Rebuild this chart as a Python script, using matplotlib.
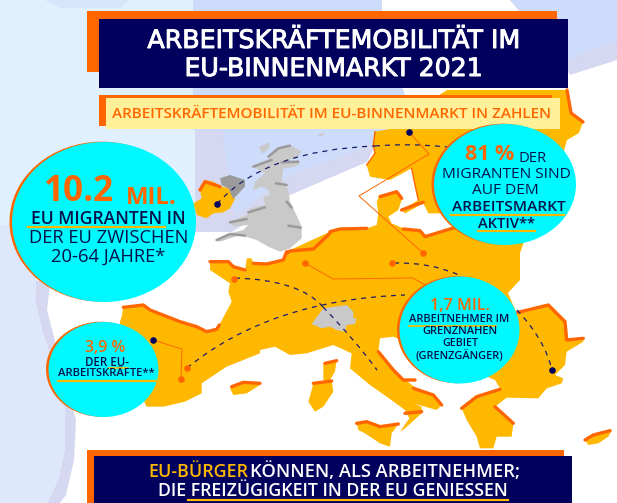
import matplotlib
matplotlib.use("Agg")
import matplotlib.pyplot as plt
import matplotlib.patheffects as pe
from matplotlib.patches import Polygon, Ellipse, Rectangle, PathPatch
from matplotlib.path import Path

ORANGE = "#ff6600"
AMBER = "#ffb800"
CYAN = "#00f8ff"
NAVY = "#01005c"
INK = "#04124a"
GREY = "#c9c9c9"
DARKGREY = "#9a9a9a"
FONT = "Open Sans"

def crop(x0, y0, pts):
    return [(x0 + x / 3, y0 + y / 3) for x, y in pts]

C1 = (190, 125)
C2 = (330, 85)
C3 = (100, 250)
C4 = (290, 300)

mainland = (
    crop(*C3, [(330,35),(385,35),(400,50),(435,65),(440,25),(455,25),(460,40),(500,45),(550,30),(560,5)])
    + crop(*C2, [(0,440),(30,430),(110,430),(140,420),(145,385),(140,350),(150,330),(200,320),(215,345),(205,375),
                 (175,395),(185,415),(220,430),(270,435),(285,455),(350,435),(400,420)])
    + [(530,225),(520,253),(520,280),(508,293),(516,312)]
    + crop(*C4, [(680,38),(775,12),(825,65),(830,120),(880,112),(880,125),(830,155),(825,195),(795,225),(820,235),
                 (815,250),(770,265),(745,295),(650,293),(615,320),(640,345),(670,370),(665,410),(620,410),(610,445),
                 (570,445),(560,410),(530,360),(515,325),(560,290),(630,265),(615,240),(310,110),(270,115),(265,155),
                 (310,210),(340,235),(375,262),(430,285),(455,315),(440,330),(370,310),(395,320),(395,340),(345,385),
                 (330,395),(358,355),(345,330),(290,290),(240,255),(180,205),(185,160),(130,135),(50,160),(0,165)])
    + crop(*C3, [(570,315),(525,290),(480,300),(480,310),(380,350),(305,400),(305,430),(255,455),(190,470),(140,470),
                 (60,300),(60,215),(65,200),(70,170),(130,165),(150,180),(240,215),(290,230),(320,245),(350,240),
                 (395,155),(385,125),(390,100),(330,60)])
)
north = (
    [(447,90),(567,90),(571,113),(583,122),(579,133),(567,140),(550,200),(530,235)]
    + crop(*C2, [(350,385),(295,385),(280,355),(225,385),(215,375),(265,345),(255,300),(245,250),(180,285),(120,275),
                 (110,240),(135,205),(130,180),(135,140),(190,130),(220,100)])
)
ireland = crop(*C1, [(30,195),(45,165),(70,170),(95,185),(115,190),(135,222),(120,250),(100,262),(70,265),(50,280),(20,270),(10,235),(35,220)])
corsica = crop(*C4, [(100,190),(140,180),(135,215),(120,240),(100,240)])
sardinia = crop(*C4, [(70,250),(125,240),(130,275),(100,320),(75,335),(55,305),(65,270)])
sicily = crop(*C4, [(200,370),(230,362),(270,378),(325,372),(305,400),(300,440),(270,430),(225,400),(205,390)])
balearic = crop(*C3, [(390,415),(430,395),(480,400),(480,405),(440,430),(400,435)])
cyprus = crop(*C4, [(885,420),(900,408),(945,400),(965,392),(955,410),(925,430),(895,435)])
uk = crop(*C1, [(235,95),(265,70),(300,60),(335,80),(320,100),(290,105),(330,115),(315,125),(280,130),(275,165),(295,195),
                (300,230),(310,250),(335,305),(335,340),(300,370),(270,380),(235,365),(200,345),(150,330),(90,350),(75,345),
                (120,325),(160,315),(175,300),(130,305),(120,290),(170,270),(180,250),(225,240),(220,215),(240,210),(235,195),
                (215,185),(190,195),(195,170),(225,145),(190,125),(235,110)])
nireland = crop(*C1, [(90,160),(120,150),(165,165),(165,185),(130,222),(115,190),(95,180)])
hebrides = crop(*C1, [(208,65),(240,52),(235,75),(215,85)])
orkney = crop(*C1, [(385,30),(400,22),(400,30),(390,35)])
switzerland = crop(*C4, [(65,72),(100,25),(170,15),(190,35),(190,55),(200,55),(195,72),(170,75),(165,95),(140,90),(120,80),(95,85)])

orange_edges = [
    crop(*C3, [(330,35),(385,35),(400,50),(435,60)]), crop(*C3, [(460,40),(500,42),(550,30),(560,5)]),
    crop(*C3, [(70,172),(130,165),(150,180),(240,215),(290,230),(320,245),(350,238),(358,225)]),
    crop(*C1, [(290,385),(300,378),(370,372),(420,325)]),
    crop(*C2, [(215,375),(260,358),(280,352)]), crop(*C2, [(150,335),(200,320),(215,340)]),
    crop(*C2, [(0,440),(30,432),(110,430)]), crop(*C2, [(220,432),(270,437),(285,455),(350,435),(400,420)]),
    crop(*C4, [(265,155),(310,210),(340,240),(375,240)]), crop(*C4, [(370,265),(430,285),(455,315)]),
    crop(*C4, [(105,190),(140,182)]), crop(*C4, [(70,250),(125,243)]),
    crop(*C4, [(200,370),(230,365),(270,380),(325,372)]), crop(*C4, [(345,340),(395,335)]),
    crop(*C4, [(515,325),(560,290),(630,268)]), crop(*C4, [(680,38),(775,15),(825,65),(830,120),(880,115)]),
    crop(*C4, [(615,320),(670,370)]), crop(*C4, [(885,420),(910,405),(960,392)]),
    crop(*C1, [(30,195),(45,170),(90,185)]), crop(*C3, [(395,410),(430,397),(480,400)]),
    [(567,90),(571,113),(583,122)],
]
thin_edges = [crop(*C2, [(135,140),(130,180),(135,205),(110,240)]), crop(*C2, [(245,250),(255,300),(265,345)])]
uk_shadows = [
    crop(*C1, [(235,95),(265,70),(300,62)]), crop(*C1, [(190,125),(225,112),(245,105)]), crop(*C1, [(275,112),(325,110)]),
    crop(*C1, [(258,175),(290,180)]), crop(*C1, [(290,230),(305,248)]), crop(*C1, [(295,302),(332,308)]),
    crop(*C1, [(175,262),(225,247)]), crop(*C1, [(120,292),(170,282)]), crop(*C1, [(80,345),(120,327),(165,332)]),
]

curves = [
    [(217,204),(265,150),(375,146)], [(375,146),(410,143),(447,147)], [(235,278),(300,280),(323,307)],
    [(323,307),(355,340),(377,370)], [(187,368),(270,300),(405,295)], [(394,263),(430,262),(459,275)],
    [(517,310),(545,340),(552,370)],
]
leaders = [
    [(409,132),(429,154),(359,196),(423,253)], [(305,263),(333,279),(413,278),(425,285)],
    [(153,340),(182,349),(181,379)],
]
navy_dots = [(217,204),(409,132),(153,340),(552,370)]
orange_dots = [(234,279),(305,263),(392,263),(187,368),(181,379),(423,253)]
ellipses = [(104,222,92,80),(103.5,369.5,55,47.5),(459.5,330,60,53.5),(505,184.5,71,60.5)]

title_lines = ["ARBEITSKRÄFTEMOBILITÄT IM", "EU-BINNENMARKT 2021"]
subtitle = "ARBEITSKRÄFTEMOBILITÄT IM EU-BINNENMARKT IN ZAHLEN"

fig = plt.figure(figsize=(6.17, 5.03), dpi=100)
ax = fig.add_axes([0, 0, 1, 1])
ax.set_xlim(0, 617)
ax.set_ylim(503, 0)
ax.axis("off")
renderer = fig.canvas.get_renderer()

def rect(x0, y0, x1, y1, color, z=5):
    ax.add_patch(Rectangle((x0, y0), x1 - x0, y1 - y0, fc=color, ec="none", zorder=z))

def poly(points, color, z=2):
    ax.add_patch(Polygon(points, closed=True, fc=color, ec="none", zorder=z))

def txt(x0, x1, y, s, color=INK, weight="normal", family=FONT, z=8):
    t = ax.text((x0 + x1) / 2, y, s, fontsize=10, color=color, fontweight=weight, ha="center", va="center", family=family, zorder=z)
    width = t.get_window_extent(renderer).width
    t.set_fontsize(10 * (x1 - x0) / width)
    return t

# background
rect(0, 0, 617, 503, "white", 0)
poly([(0,0),(222,0),(222,130),(228,175),(222,225),(0,225)], "#e0f0ff", 0.1)
poly([(45,0),(130,0),(120,8),(60,8)], "#d5e6fb", 0.15)
poly([(36,280),(50,285),(47,310),(60,360),(76,420),(74,460),(66,495),(60,503),(47,503),(58,480),(65,450),(65,410),(55,370),(42,330),(35,300)], "#d5d8f0", 0.2)
poly([(0,225),(36,225),(36,280),(35,300),(42,330),(55,370),(65,410),(65,450),(58,480),(47,503),(0,503)], "#dde8fc", 0.25)
poly([(195,232),(232,232),(290,195),(367,162),(385,125),(195,125)], "#d5d8f0", 0.3)
poly([(222,125),(385,125),(372,145),(290,175),(235,215),(228,175)], "#ccdcfa", 0.4)
poly([(193,0),(382,0),(382,30),(405,95),(405,130),(193,130)], "#ccdcfa", 0.4)
poly([(510,0),(617,0),(617,60),(570,75),(560,60)], "#d5d8f0", 0.3)
poly([(510,0),(617,0),(617,40),(567,60)], "#ccdcfa", 0.4)

# map
for shape in (mainland, north, ireland, corsica, sardinia, sicily, balearic, cyprus):
    poly(shape, AMBER, 2)
for edge in orange_edges:
    ax.plot(*zip(*edge), color=ORANGE, lw=2.4, zorder=2.5, solid_capstyle="round")
for edge in thin_edges:
    ax.plot(*zip(*edge), color=ORANGE, lw=1.0, zorder=2.5)
for shape in (uk, hebrides, orkney):
    poly(shape, GREY, 2.2)
poly(nireland, DARKGREY, 2.2)
for s in uk_shadows:
    ax.plot(*zip(*s), color=DARKGREY, lw=1.8, zorder=2.3, solid_capstyle="round")
poly(switzerland, GREY, 2.6)

for c in curves:
    ax.add_patch(PathPatch(Path(c, [Path.MOVETO, Path.CURVE3, Path.CURVE3]), fc="none", ec="#1b1b6b", lw=0.9, ls=(0, (4, 4)), zorder=3))
for l in leaders:
    ax.plot(*zip(*l), color=ORANGE, lw=0.7, zorder=3)
ax.scatter(*zip(*navy_dots), s=14, color=NAVY, zorder=4)
ax.scatter(*zip(*orange_dots), s=14, color=ORANGE, zorder=4)

# banners
rect(87, 11, 557, 72, ORANGE, 5)
rect(99, 19, 568, 88, NAVY, 5.1)
rect(99, 95, 552, 126, ORANGE, 5)
rect(106, 98, 560, 129, "#fff099", 5.1)
rect(87, 450, 564, 503, ORANGE, 5)
rect(94, 456, 572, 503, NAVY, 5.1)

# circles
for cx, cy, rx, ry in ellipses:
    ax.add_patch(Ellipse((cx - 2.5, cy - 0.3), 2 * rx, 2 * ry, fc=ORANGE, ec="none", zorder=6))
    ax.add_patch(Ellipse((cx, cy), 2 * rx, 2 * ry, fc=CYAN, ec="none", zorder=6.1))

# texts
for x0, x1, y, s in [(148, 520, 41, title_lines[0]), (185, 482, 69, title_lines[1])]:
    t = txt(x0, x1, y, s, "white", "normal", "DejaVu Sans")
    t.set_path_effects([pe.withStroke(linewidth=0.7, foreground="white")])
txt(113, 551, 114, subtitle, ORANGE, "semibold")

txt(44, 114, 192, "10.2", ORANGE, "bold")
txt(126, 177, 198, "MIL.", ORANGE, "bold")
txt(31, 186, 219, "EU MIGRANTEN IN", INK, "semibold")
txt(29, 189, 238, "DER EU ZWISCHEN")
txt(51, 165, 257, "20-64 JAHRE*")

txt(465, 514, 155, "81 %", ORANGE, "bold")
txt(519, 547, 158, "DER")
txt(442, 571, 175, "MIGRANTEN SIND")
txt(472, 539, 191, "AUF DEM")
txt(452, 565, 207, "ARBEITSMARKT", INK, "semibold")
txt(478, 535, 224, "AKTIV**", INK, "semibold")

txt(85, 126, 348, "3,9 %", ORANGE, "semibold")
txt(85, 129, 362, "DER EU-", INK, "semibold")
txt(58, 155, 374, "ARBEITSKRÄFTE**", INK, "semibold")

txt(430, 490, 306, "1,7 MIL.", ORANGE, "semibold")
txt(409, 510, 320, "ARBEITNEHMER IM", INK, "semibold")
txt(422, 498, 332, "GRENZNAHEN", INK, "semibold")
txt(442, 478, 344, "GEBIET", INK, "semibold")
txt(415, 503, 356, "(GRENZGÄNGER)", INK, "semibold")

txt(148, 248, 472, "EU-BÜRGER", AMBER, "semibold")
txt(252, 519, 472, "KÖNNEN, ALS ARBEITNEHMER;", "white", "semibold")
txt(157, 509, 491, "DIE FREIZÜGIGKEIT IN DER EU GENIESSEN", "white", "semibold")

# underlines
for x0, x1, y, lw in [(28, 165, 227, 1.6), (451, 564, 215, 1.6), (478, 535, 231, 1.6), (109, 128, 368, 1.2),
                      (58, 156, 381, 1.6), (409, 496, 326, 1.2), (188, 508, 500, 1.6)]:
    ax.plot([x0, x1], [y, y], color=AMBER, lw=lw, zorder=7.5)

fig.savefig("out.png", dpi=100)
